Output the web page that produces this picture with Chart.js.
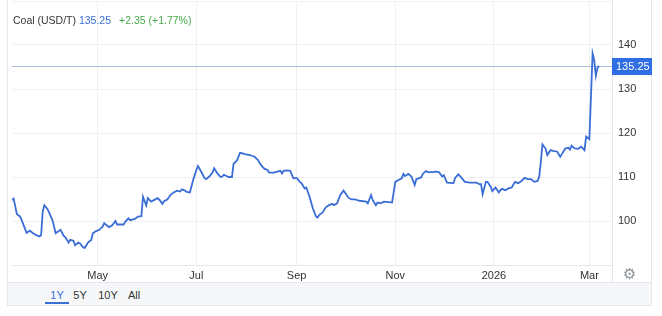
<!DOCTYPE html>
<html>
<head>
<meta charset="utf-8">
<script src="https://cdn.jsdelivr.net/npm/chart.js@4/dist/chart.umd.min.js"></script>
<style>
  body { margin: 0; background: #fff; font-family: Arial, "Liberation Sans", sans-serif; }
  #box { position: absolute; left: 7px; top: 0; width: 645px; height: 306px; box-sizing: border-box; border: 1px solid #e4e7eb; border-top: none; }
  #wrap { position: absolute; left: 7px; top: 0; width: 645px; height: 282px; }
  #bar { position: absolute; left: 8px; top: 282px; width: 643px; height: 23px; background: #f6f7f9; border-top: 1px solid #e4e7eb; box-sizing: border-box; }
  .btn { position: absolute; top: 289px; font-size: 11px; color: #333; transform: translateX(-50%); }
  #head { position: absolute; left: 13px; top: 14px; font-size: 10.5px; color: #333; white-space: nowrap; }
  #gear { position: absolute; left: 623px; top: 265px; font-size: 15px; color: #8a8f96; font-family: "DejaVu Sans", sans-serif; }
</style>
</head>
<body>
<div id="box"></div>
<div id="bar"></div>
<div id="wrap"><canvas id="grafico"></canvas></div>
<div id="head">Coal (USD/T) <span style="color:#3b6fd6">135.25</span><span style="color:#46a84a;margin-left:8px">+2.35 (+1.77%)</span></div>
<div id="gear">⚙</div>
<div class="btn" style="left:57px;color:#3b6fd6">1Y</div>
<div style="position:absolute;left:45px;top:302px;width:24px;height:2px;background:#3b6fd6"></div>
<div class="btn" style="left:80px">5Y</div>
<div class="btn" style="left:108px">10Y</div>
<div class="btn" style="left:134px">All</div>
<script>
// days counted from 1 Mar 2025
const days = [8,9,11,13,14,17,19,21,23,25,26,27,28,30,33,35,38,40,41,43,44,46,47,49,50,52,53,55,57,58,60,62,64,65,68,70,72,73,77,78,80,81,84,86,88,89,91,92,94,96,98,99,101,102,104,106,108,110,112,113,115,116,118,120,122,123,125,127,128,130,132,133,135,137,138,139,142,144,145,147,149,150,152,155,158,160,162,164,166,167,170,172,174,175,176,178,180,182,184,186,187,189,190,192,194,196,197,198,200,202,204,206,207,209,211,213,214,216,218,220,223,227,228,230,231,233,234,236,238,241,243,245,247,249,250,251,253,255,257,258,261,262,264,265,268,270,272,274,275,277,281,282,284,286,288,291,295,297,298,299,301,302,304,305,307,309,310,311,313,315,317,319,321,323,325,327,329,331,333,334,335,336,338,339,341,343,345,347,348,350,352,353,354,356,358,360,362,363,365,367,368,369,370,371];
const prices = [104.8,105.1,101.6,101.0,100.2,97.3,97.8,97.2,96.8,96.5,96.8,102.1,103.6,102.7,100.2,97.2,98.0,96.6,96.3,95.1,95.7,95.5,94.5,95.1,94.9,94.0,93.9,95.1,95.7,97.2,97.7,98.0,98.7,99.5,98.6,99.0,100.0,99.2,99.2,99.8,100.6,100.2,100.5,101.0,101.1,105.5,103.5,105.2,104.4,104.8,105.2,104.9,103.9,104.5,104.9,105.9,106.5,106.9,106.7,107.2,106.9,106.6,106.5,109.3,111.6,112.5,111.2,109.8,109.5,110.1,111.0,112.0,110.8,110.0,110.1,110.5,110.0,110.0,113.0,113.7,115.5,115.4,115.2,115.0,114.6,113.9,112.7,111.9,111.6,111.0,111.0,111.2,111.4,110.8,111.4,111.5,111.4,109.7,109.8,108.9,108.6,107.4,107.6,105.5,102.9,101.0,100.8,101.4,101.9,103.1,103.6,103.9,103.6,104.0,105.9,106.9,106.4,105.3,104.9,104.9,104.6,104.4,104.0,105.9,104.8,103.6,104.2,104.0,104.4,104.3,104.2,108.9,109.3,109.7,110.7,110.2,110.7,110.1,108.2,109.5,109.9,110.7,111.4,111.1,111.1,111.2,111.1,110.1,110.4,108.7,108.6,109.8,110.6,109.8,108.9,108.7,108.7,108.4,108.4,106.1,108.9,108.9,107.8,106.8,107.6,106.5,107.0,107.3,107.0,107.4,107.6,108.9,108.6,109.1,109.8,109.5,109.5,108.9,109.1,110.1,113.5,117.4,116.4,115.0,116.1,115.9,115.8,114.6,115.2,116.4,116.7,116.2,117.1,116.5,116.4,116.9,116.1,119.2,118.6,138.1,136.6,133.0,134.8,135.25];
const tickDays = [61, 122, 184, 245, 306, 365];
const tickLabels = ['May', 'Jul', 'Sep', 'Nov', '2026', 'Mar'];
const yLabels = [100, 110, 120, 130, 140];

const ultimo = prices[prices.length - 1];
const puntos = days.map((d, i) => ({ x: d, y: prices[i] }));

Chart.defaults.font.family = 'Arial, "Liberation Sans", sans-serif';
Chart.defaults.font.size = 11;
Chart.defaults.color = '#333';

const sinPadding = s => { s.paddingTop = 0; s.paddingBottom = 0; s.paddingLeft = 0; s.paddingRight = 0; };

const precio = {
    id: 'precio',
    beforeDatasetsDraw(chart) {
        const { ctx, chartArea, scales } = chart;
        const y = Math.round(scales.y.getPixelForValue(ultimo)) + 0.5;
        ctx.save();
        ctx.strokeStyle = '#a9bfdb';
        ctx.lineWidth = 1;
        ctx.beginPath();
        ctx.moveTo(chartArea.left, y);
        ctx.lineTo(chartArea.right, y);
        ctx.stroke();
        ctx.restore();
    },
    afterDraw(chart) {
        const { ctx, chartArea, scales } = chart;
        const y = Math.round(scales.y.getPixelForValue(ultimo));
        ctx.save();
        ctx.strokeStyle = '#e4e7eb';
        ctx.lineWidth = 1;
        ctx.beginPath();
        ctx.moveTo(chartArea.right + 0.5, 0);
        ctx.lineTo(chartArea.right + 0.5, chart.height);
        ctx.stroke();
        ctx.fillStyle = '#2f6de3';
        ctx.fillRect(chartArea.right, y - 8, 40, 17);
        ctx.fillStyle = '#fff';
        ctx.textBaseline = 'middle';
        ctx.font = '11px Arial, "Liberation Sans", sans-serif';
        ctx.fillText(ultimo.toFixed(2), chartArea.right + 4, y + 0.5);
        ctx.restore();
    }
};

new Chart(document.getElementById('grafico'), {
    type: 'line',
    data: {
        datasets: [{
            data: puntos,
            borderColor: '#3a6dd5',
            borderWidth: 1.8,
            pointRadius: 0,
            tension: 0
        }]
    },
    options: {
        responsive: true,
        maintainAspectRatio: false,
        animation: false,
        layout: { padding: { top: 1, left: 5, right: 0, bottom: 0 } },
        plugins: { legend: { display: false }, tooltip: { enabled: false } },
        scales: {
            x: {
                type: 'linear',
                min: 8,
                max: 379,
                afterBuildTicks: s => { s.ticks = tickDays.map(v => ({ value: v })); },
                afterFit: s => { s.height = 17; sinPadding(s); },
                ticks: {
                    padding: 4,
                    maxRotation: 0,
                    autoSkip: false,
                    callback: v => tickLabels[tickDays.indexOf(v)]
                },
                grid: { color: '#eef0f3', drawTicks: false },
                border: { color: '#e4e7eb' }
            },
            y: {
                position: 'right',
                min: 90,
                max: 150,
                afterFit: s => { s.width = 40; sinPadding(s); },
                ticks: {
                    stepSize: 10,
                    padding: 6,
                    callback: v => yLabels.includes(v) ? v : ''
                },
                grid: { color: '#eef0f3', drawTicks: false },
                border: { display: false }
            }
        }
    },
    plugins: [precio]
});
</script>
</body>
</html>
